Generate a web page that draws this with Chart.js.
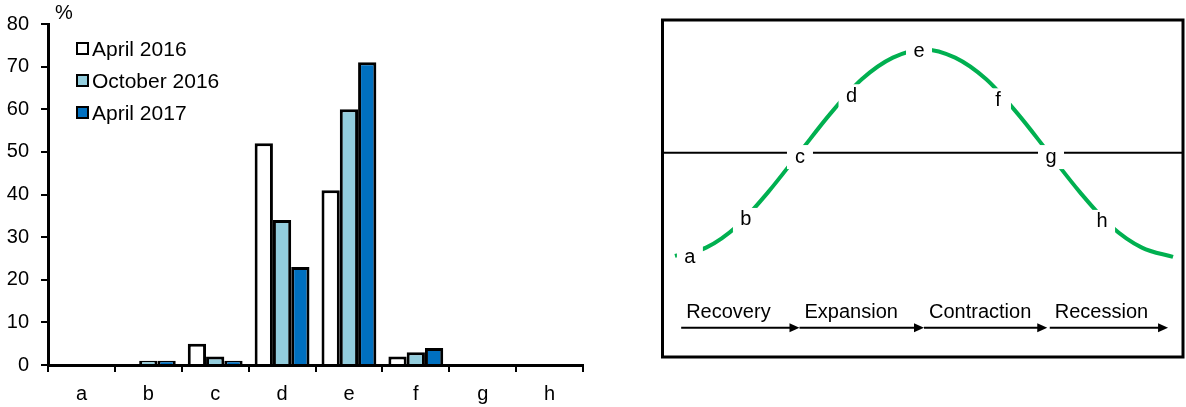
<!DOCTYPE html>
<html><head><meta charset="utf-8">
<script src="https://cdn.jsdelivr.net/npm/chart.js@4.4.1/dist/chart.umd.min.js"></script>
<style>
html,body{margin:0;padding:0;background:#fff;width:1186px;height:407px;overflow:hidden;}
#left{position:absolute;left:0;top:0;width:600px;height:407px;}
#right{position:absolute;left:640px;top:0;width:546px;height:407px;}
</style></head><body>
<div id="left"><canvas id="c1"></canvas></div>
<div id="right"><canvas id="c2"></canvas></div>
<script>
// ---- bar chart data ----
const categories = ['a','b','c','d','e','f','g','h'];
const seriesNames = ['April 2016','October 2016','April 2017'];
const april2016   = [0, 0, 5, 52, 41, 2, 0, 0];
const october2016 = [0, 1, 2, 34, 60, 3, 0, 0];
const april2017   = [0, 1, 1, 23, 71, 4, 0, 0];
const unitLabel = '%';

// ---- business-cycle diagram data ----
const cyclePhase = [0,0.25,0.5,0.75,1,1.25,1.5,1.75,2,2.25,2.5,2.75,3,3.25,3.5,3.75,4];
const cycleLevel = [-1.0,-0.92,-0.71,-0.38,0,0.38,0.71,0.92,1.0,0.92,0.71,0.38,0,-0.38,-0.71,-0.92,-1.01];
const cycleLabels = ['a','b','c','d','e','f','g','h'];
const cycleLabelPhase = [0.12,0.57,1.004,1.418,1.96,2.594,3.02,3.43];
const cycleLabelLevel = [-1.019,-0.652,-0.043,0.546,0.981,0.507,-0.043,-0.671];
const phaseNames = ['Recovery','Expansion','Contraction','Recession'];
const phaseStart = [0.05,1.0,2.0,3.01];
const phaseEnd   = [1.0,2.0,2.99,3.96];

const FONT = "'Liberation Sans', Arial, sans-serif";
Chart.defaults.font.family = FONT;
Chart.defaults.font.size = 20;
Chart.defaults.color = '#000';

const legendAndUnit = {
  id:'legendAndUnit',
  afterDraw(chart){
    const ctx = chart.ctx;
    ctx.save();
    ctx.font = '20px ' + FONT;
    ctx.fillStyle = '#000';
    ctx.textAlign = 'left';
    ctx.textBaseline = 'alphabetic';
    ctx.fillText(unitLabel, 55, 19);
    ctx.font = '21px ' + FONT;
    chart.data.datasets.forEach((ds,i)=>{
      const yc = 48.5 + i*32;
      ctx.fillStyle = ds.backgroundColor;
      ctx.fillRect(77, yc-5.5, 11, 11);
      ctx.lineWidth = 2;
      ctx.strokeStyle = '#000';
      ctx.strokeRect(77, yc-5.5, 11, 11);
      ctx.fillStyle = '#000';
      ctx.fillText(ds.label, 92, yc+7.5);
    });
    ctx.restore();
  }
};

const barStyle = {borderColor:'#000', borderWidth:3, categoryPercentage:0.82, barPercentage:1};
new Chart(document.getElementById('c1'), {
  type:'bar',
  data:{labels:categories, datasets:[
    Object.assign({label:seriesNames[0], data:april2016, backgroundColor:'#FFFFFF'}, barStyle),
    Object.assign({label:seriesNames[1], data:october2016, backgroundColor:'#93CDDD'}, barStyle),
    Object.assign({label:seriesNames[2], data:april2017, backgroundColor:'#0070C0'}, barStyle)
  ]},
  options:{
    responsive:true, maintainAspectRatio:false, animation:false,
    layout:{padding:{left:0, top:24, right:17, bottom:0}},
    plugins:{legend:{display:false}, tooltip:{enabled:false}},
    scales:{
      x:{
        grid:{offset:true, drawOnChartArea:false, drawTicks:true, tickLength:7, color:'#000', lineWidth:2},
        border:{display:true, color:'#000', width:3},
        ticks:{color:'#000', padding:10, font:{size:20}},
        afterFit(s){ s.height = 42; }
      },
      y:{
        min:0, max:80,
        ticks:{stepSize:10, color:'#000', padding:12, font:{size:20}},
        grid:{drawOnChartArea:false, drawTicks:true, tickLength:7, color:'#000', lineWidth:2},
        border:{display:true, color:'#000', width:3},
        afterFit(s){ s.width = 48; }
      }
    }
  },
  plugins:[legendAndUnit]
});

const cyclePlugin = {
  id:'cyclePlugin',
  beforeDatasetsDraw(chart){
    const ctx = chart.ctx, ca = chart.chartArea, ys = chart.scales.y;
    ctx.save();
    ctx.strokeStyle = '#000';
    ctx.lineWidth = 2;
    const y0 = ys.getPixelForValue(0);
    ctx.beginPath();
    ctx.moveTo(ca.left, y0);
    ctx.lineTo(ca.right, y0);
    ctx.stroke();
    ctx.restore();
  },
  afterDatasetsDraw(chart){
    const ctx = chart.ctx, ca = chart.chartArea, xs = chart.scales.x, ys = chart.scales.y;
    ctx.save();
    ctx.font = '20px ' + FONT;
    ctx.textAlign = 'center';
    ctx.textBaseline = 'alphabetic';
    cycleLabels.forEach((t,i)=>{
      const px = xs.getPixelForValue(cycleLabelPhase[i]);
      const py = ys.getPixelForValue(cycleLabelLevel[i]);
      ctx.fillStyle = '#fff';
      ctx.fillRect(px-13, py-12, 26, 24);
      ctx.fillStyle = '#000';
      ctx.fillText(t, px, py+5.5);
    });
    // frame
    ctx.strokeStyle = '#000';
    ctx.lineWidth = 3;
    ctx.strokeRect(ca.left, ca.top, ca.right-ca.left, ca.bottom-ca.top);
    // phase arrows
    const ya = ys.getPixelForValue(-1.697);
    const yt = ys.getPixelForValue(-1.603);
    ctx.textAlign = 'left';
    phaseNames.forEach((n,i)=>{
      const x0 = xs.getPixelForValue(phaseStart[i]);
      const x1 = xs.getPixelForValue(phaseEnd[i]);
      ctx.strokeStyle = '#000';
      ctx.lineWidth = 2;
      ctx.beginPath();
      ctx.moveTo(x0, ya);
      ctx.lineTo(x1-8, ya);
      ctx.stroke();
      ctx.fillStyle = '#000';
      ctx.beginPath();
      ctx.moveTo(x1, ya);
      ctx.lineTo(x1-10, ya-4.5);
      ctx.lineTo(x1-10, ya+4.5);
      ctx.closePath();
      ctx.fill();
      ctx.fillText(n, x0+5, yt);
    });
    ctx.restore();
  }
};

new Chart(document.getElementById('c2'), {
  type:'line',
  data:{datasets:[{
    data: cyclePhase.map((x,i)=>({x:x, y:cycleLevel[i]})),
    borderColor:'#00B050', borderWidth:4, pointRadius:0,
    cubicInterpolationMode:'monotone', fill:false, borderCapStyle:'butt'
  }]},
  options:{
    responsive:true, maintainAspectRatio:false, animation:false,
    layout:{padding:{left:22.5, right:3, top:20, bottom:50}},
    plugins:{legend:{display:false}, tooltip:{enabled:false}},
    scales:{
      x:{type:'linear', min:-0.1, max:4.08, display:false},
      y:{min:-1.98, max:1.285, display:false}
    }
  },
  plugins:[cyclePlugin]
});
</script>
</body></html>
